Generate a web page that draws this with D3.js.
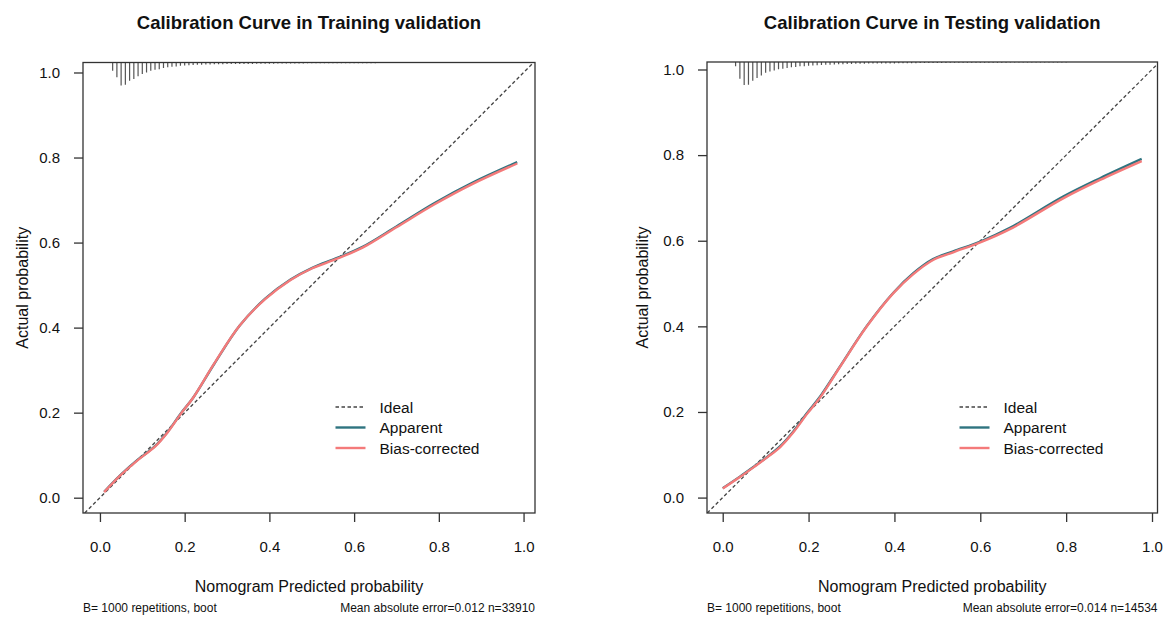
<!DOCTYPE html>
<html>
<head>
<meta charset="utf-8">
<script src="https://cdn.jsdelivr.net/npm/d3@7"></script>
<style>
  body { margin: 0; background: #fff; }
  svg text { font-family: "Liberation Sans", Arial, Helvetica, sans-serif; fill: #111; }
</style>
</head>
<body>
<div id="chart"></div>
<script>
// ---- data ----
var axisTicks = [0, 0.2, 0.4, 0.6, 0.8, 1.0];

var trainX        = [0.01, 0.05, 0.09, 0.13, 0.16, 0.19, 0.22, 0.27, 0.33, 0.39, 0.45, 0.50, 0.56, 0.62, 0.70, 0.79, 0.88, 0.985];
var trainApparent = [0.014, 0.055, 0.090, 0.121, 0.155, 0.197, 0.235, 0.315, 0.405, 0.468, 0.513, 0.540, 0.564, 0.590, 0.638, 0.693, 0.741, 0.789];
var trainBias     = [0.013, 0.054, 0.089, 0.120, 0.154, 0.196, 0.235, 0.316, 0.405, 0.467, 0.512, 0.539, 0.562, 0.588, 0.636, 0.690, 0.738, 0.786];

var testX         = [0.00, 0.04, 0.075, 0.105, 0.134, 0.165, 0.196, 0.227, 0.273, 0.335, 0.397, 0.444, 0.49, 0.537, 0.60, 0.669, 0.793, 0.879, 0.976];
var testApparent  = [0.022, 0.049, 0.074, 0.096, 0.120, 0.155, 0.197, 0.236, 0.306, 0.400, 0.478, 0.524, 0.557, 0.575, 0.598, 0.630, 0.703, 0.746, 0.791];
var testBias      = [0.021, 0.048, 0.073, 0.095, 0.118, 0.153, 0.195, 0.234, 0.305, 0.399, 0.477, 0.522, 0.555, 0.573, 0.596, 0.627, 0.699, 0.742, 0.786];

// spike histogram of predicted probabilities (relative frequency, max = 100)
var rugBins = [0.03,0.04,0.05,0.06,0.07,0.08,0.09,0.10,0.11,0.12,0.13,0.14,0.15,0.16,0.17,0.18,0.19,0.20,
               0.21,0.22,0.23,0.24,0.25,0.26,0.27,0.28,0.29,0.30,0.31,0.32,0.33,0.34,0.35,0.36,0.37,0.38,0.39,0.40,
               0.41,0.42,0.43,0.44,0.45,0.46,0.47,0.48,0.49,0.50,0.51,0.52,0.53,0.54,0.55,0.56,0.57,0.58,0.59,0.60,
               0.61,0.62,0.63,0.64,0.65,0.66,0.67,0.68,0.69,0.70,0.71,0.72,0.73,0.74,0.75,0.76,0.77,0.78,0.79,0.80];
var trainRug = [36,64,100,97,79,72,60,50,43,36, 31,29,24,21,19,17,14,13,12,11, 10,10,9,9,8,8,8,7,7,7,
                6,6,6,6,5,5,5,5,5,4, 4,4,4,4,4,4,3,3,
                3,3,3,3,3,3,3,3,3,3,3,3,3,3,3,2,2,2,2,2,2,2,2,2,2,2,2,2,2,2];
var testRug  = [18,73,100,99,81,70,59,47,41,37, 32,29,26,23,22,19,18,16,15,14, 13,12,12,11,10,10,9,9,8,8,
                8,7,7,7,6,6,6,6,5,5, 5,5,5,4,4,4,4,4,
                4,4,3,3,3,3,3,3,3,3,3,3,3,3,3,3,2,2,2,2,2,2,2,2,2,2,2,2,2,2];

var legendLabels = ["Ideal", "Apparent", "Bias-corrected"];

// ---- layout ----
var W = 1169, H = 617;
var colApparent = "#2f7480", colBias = "#f47a7a", colIdeal = "#444";

var panels = [
    { title: "Calibration Curve in Training validation",
      x: trainX, apparent: trainApparent, bias: trainBias, rug: trainRug,
      footL: "B= 1000 repetitions, boot", footR: "Mean absolute error=0.012 n=33910",
      box: {l: 83, r: 535, t: 62.5, b: 513}, xDom: [-0.04, 1.027], yDom: [-0.036, 1.0235], ylabOff: 61 },
    { title: "Calibration Curve in Testing validation",
      x: testX, apparent: testApparent, bias: testBias, rug: testRug,
      footL: "B= 1000 repetitions, boot", footR: "Mean absolute error=0.014 n=14534",
      box: {l: 707, r: 1157.5, t: 62, b: 513}, xDom: [-0.0366, 1.0128], yDom: [-0.036, 1.0175], ylabOff: 65 }
];

var svg = d3.select("#chart").append("svg")
            .attr("width", W)
            .attr("height", H);

panels.forEach(function(p, k) {
    var b = p.box;
    var x = d3.scaleLinear().domain(p.xDom).range([b.l, b.r]);
    var y = d3.scaleLinear().domain(p.yDom).range([b.b, b.t]);
    var spike = d3.scaleLinear().domain([0, 100]).range([0, 23]);
    var g = svg.append("g");

    g.append("clipPath").attr("id", "clip" + k)
        .append("rect")
        .attr("x", b.l).attr("y", b.t)
        .attr("width", b.r - b.l).attr("height", b.b - b.t);

    var plot = g.append("g").attr("clip-path", "url(#clip" + k + ")");

    // ideal line
    var lo = Math.max(p.xDom[0], p.yDom[0]), hi = Math.min(p.xDom[1], p.yDom[1]);
    plot.append("line")
        .attr("x1", x(lo)).attr("y1", y(lo))
        .attr("x2", x(hi)).attr("y2", y(hi))
        .attr("stroke", colIdeal).attr("stroke-width", 1.3)
        .attr("stroke-dasharray", "3.5,2.5");

    // spike histogram along the top
    plot.selectAll(".spike")
        .data(rugBins)
        .enter().append("line")
        .attr("x1", function(d) { return x(d); })
        .attr("x2", function(d) { return x(d); })
        .attr("y1", b.t)
        .attr("y2", function(d, i) { return b.t + spike(p.rug[i]); })
        .attr("stroke", "#555").attr("stroke-width", 1.2);

    var line = d3.line()
        .x(function(d) { return x(d[0]); })
        .y(function(d) { return y(d[1]); })
        .curve(d3.curveCatmullRom.alpha(0.5));

    plot.append("path")
        .attr("d", line(d3.zip(p.x, p.apparent)))
        .attr("fill", "none").attr("stroke", colApparent).attr("stroke-width", 2.4);
    plot.append("path")
        .attr("d", line(d3.zip(p.x, p.bias)))
        .attr("fill", "none").attr("stroke", colBias).attr("stroke-width", 2.4);

    // box
    g.append("rect")
        .attr("x", b.l).attr("y", b.t)
        .attr("width", b.r - b.l).attr("height", b.b - b.t)
        .attr("fill", "none").attr("stroke", "#333").attr("stroke-width", 1.3);

    // axes
    var xa = g.append("g").attr("transform", "translate(0," + b.b + ")")
        .call(d3.axisBottom(x).tickValues(axisTicks).tickFormat(d3.format(".1f"))
              .tickSize(9).tickPadding(19).tickSizeOuter(0));
    var ya = g.append("g").attr("transform", "translate(" + b.l + ",0)")
        .call(d3.axisLeft(y).tickValues(axisTicks).tickFormat(d3.format(".1f"))
              .tickSize(9).tickPadding(14).tickSizeOuter(0));
    [xa, ya].forEach(function(a) {
        a.select(".domain").remove();
        a.selectAll(".tick line").attr("stroke", "#333").attr("stroke-width", 1.3);
        a.selectAll(".tick text").attr("font-size", "15px").attr("fill", "#111");
        a.attr("font-family", null);
    });

    var cx = (b.l + b.r) / 2;
    g.append("text").attr("x", cx).attr("y", 29)
        .attr("text-anchor", "middle").attr("font-size", "18.5px").attr("font-weight", "bold")
        .text(p.title);

    g.append("text").attr("x", cx).attr("y", 592)
        .attr("text-anchor", "middle").attr("font-size", "16px")
        .text("Nomogram Predicted probability");

    g.append("text")
        .attr("transform", "translate(" + (b.l - p.ylabOff) + "," + ((b.t + b.b) / 2) + ") rotate(-90)")
        .attr("text-anchor", "middle").attr("dominant-baseline", "central").attr("font-size", "16px")
        .text("Actual probability");

    g.append("text").attr("x", b.l).attr("y", 612)
        .attr("font-size", "12px").text(p.footL);
    g.append("text").attr("x", b.r).attr("y", 612)
        .attr("text-anchor", "end").attr("font-size", "12px").text(p.footR);

    // legend
    var lg = g.append("g").attr("transform", "translate(" + (b.l + 252.5) + ",0)");
    var rows = [407, 427.5, 448];
    var styles = [
        { c: colIdeal, w: 1.3, dash: "3.5,2.5" },
        { c: colApparent, w: 2.4, dash: null },
        { c: colBias, w: 2.4, dash: null }
    ];
    legendLabels.forEach(function(lab, i) {
        lg.append("line").attr("x1", 0).attr("x2", 30)
            .attr("y1", rows[i]).attr("y2", rows[i])
            .attr("stroke", styles[i].c).attr("stroke-width", styles[i].w)
            .attr("stroke-dasharray", styles[i].dash);
        lg.append("text").attr("x", 44).attr("y", rows[i])
            .attr("dominant-baseline", "central").attr("font-size", "15.5px")
            .text(lab);
    });
});
</script>
</body>
</html>
